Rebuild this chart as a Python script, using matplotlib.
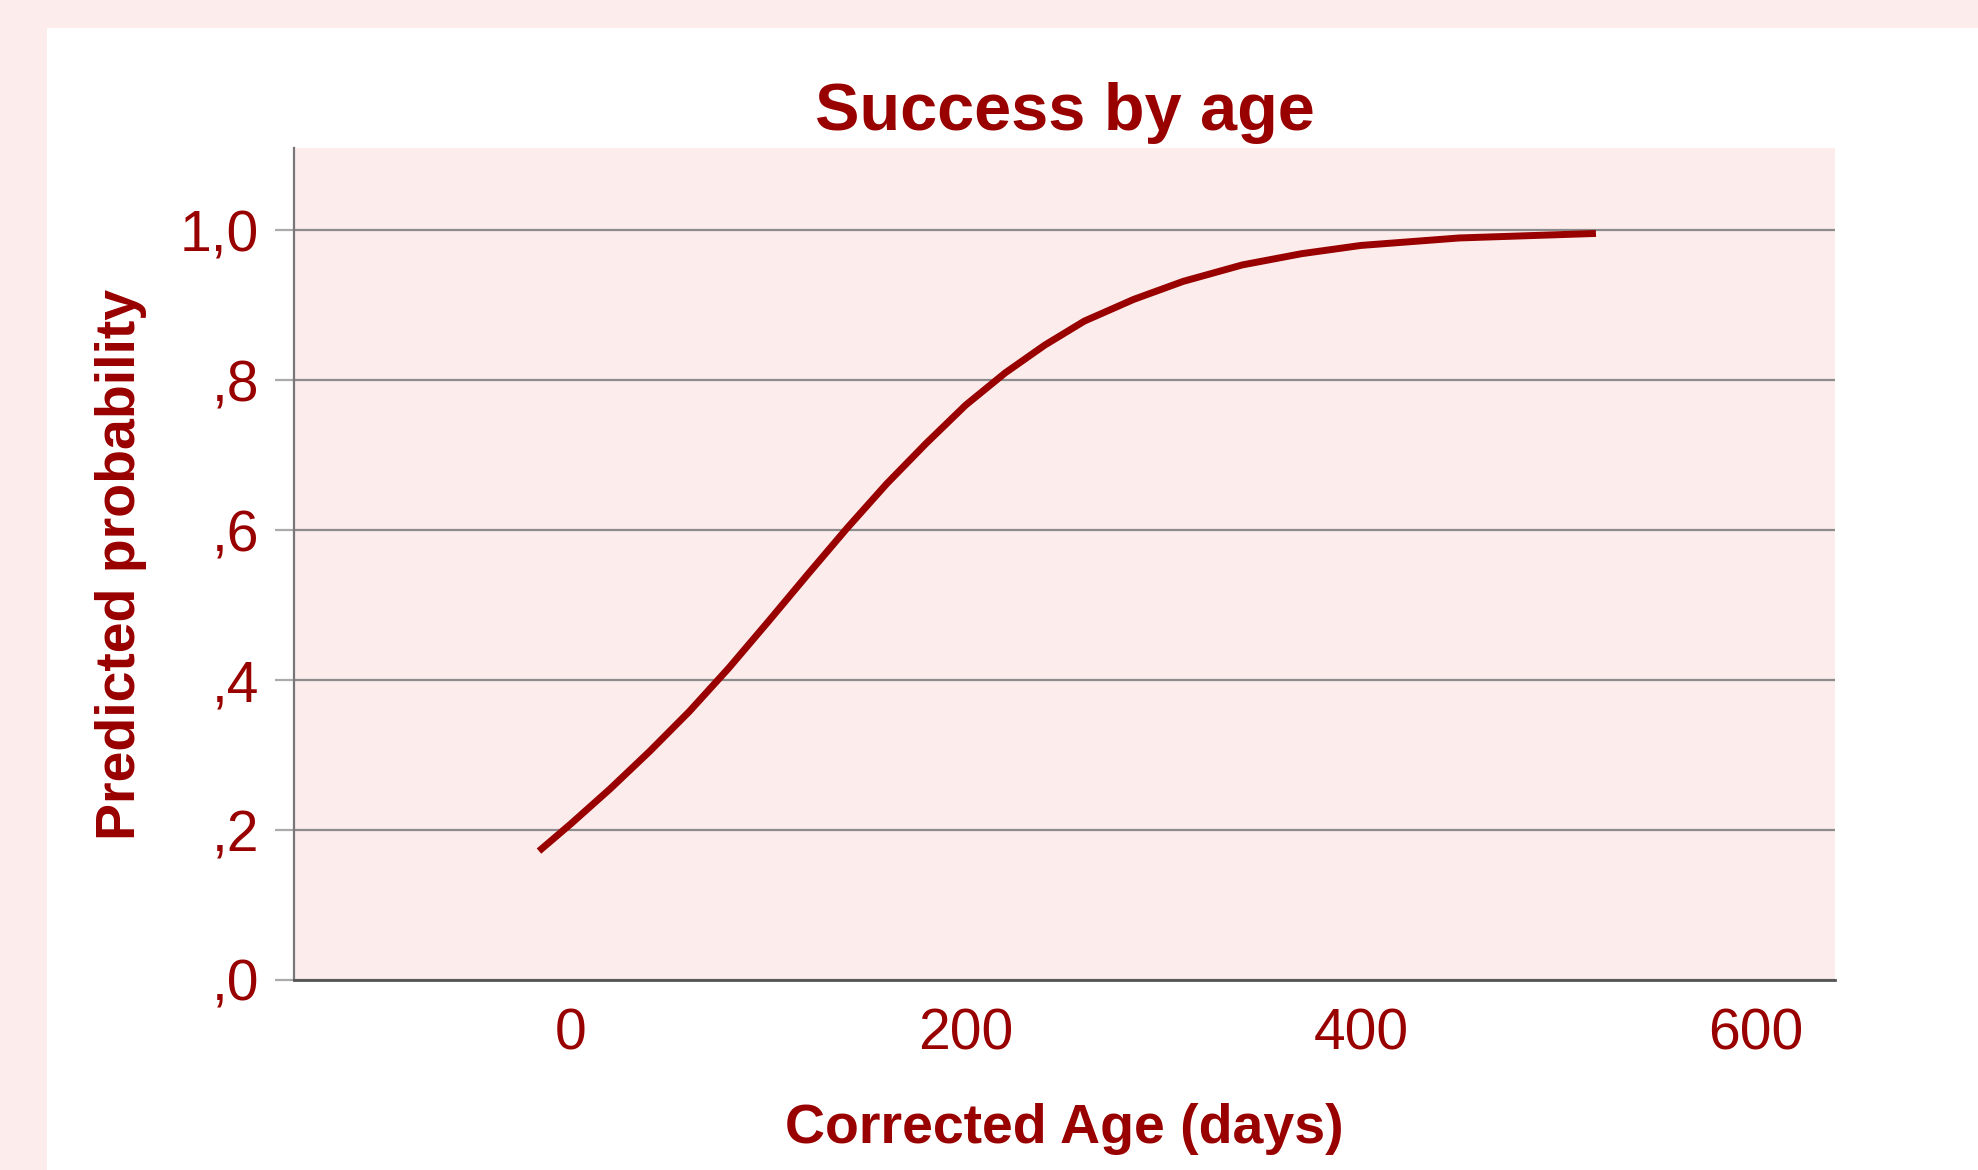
import numpy as np
import matplotlib
matplotlib.use("Agg")
import matplotlib.pyplot as plt
from matplotlib.patches import Rectangle

plt.rcParams['font.family'] = ['Liberation Sans', 'DejaVu Sans']

# datos
edad = [-16, 0, 20, 40, 60, 80, 100, 120, 140, 160, 180, 200, 220, 240, 260,
        285, 310, 340, 370, 400, 450, 519]
prob = [0.172, 0.208, 0.255, 0.305, 0.358, 0.416, 0.478, 0.541, 0.603, 0.662, 0.716,
        0.767, 0.810, 0.847, 0.879, 0.908, 0.932, 0.954, 0.969, 0.980, 0.990, 0.996]
yticks = [0.0, 0.2, 0.4, 0.6, 0.8, 1.0]
ytick_labels = [',0', ',2', ',4', ',6', ',8', '1,0']
xticks = [0, 200, 400, 600]

rojo = '#990000'
rosa = '#fcecec'

fig = plt.figure(figsize=(19.78, 11.7), dpi=100)
fig.patch.set_facecolor(rosa)
# panel blanco (detras de los ejes)
fig.patches.append(Rectangle((47/1978, 0), 1, 1 - 28/1170, transform=fig.transFigure,
                             facecolor='white', edgecolor='none', zorder=-10))

ax = fig.add_axes([294/1978, 1 - 980/1170, (1835-294)/1978, (980-148)/1170])
ax.set_facecolor(rosa)

ax.plot(edad, prob, color=rojo, lw=5, solid_capstyle='butt', solid_joinstyle='round', zorder=3)

ax.set_xlim(-140, 640)
ax.set_ylim(0, 1.11)
ax.set_xticks(xticks)
ax.set_xticklabels([str(t) for t in xticks])
ax.set_yticks(yticks)
ax.set_yticklabels(ytick_labels)

ax.grid(axis='y', color='#8c8c8c', lw=1.6, zorder=1)
ax.set_axisbelow(True)
for s in ['top', 'right']:
    ax.spines[s].set_visible(False)
ax.spines['left'].set_color('#777777')
ax.spines['left'].set_linewidth(1.6)
ax.spines['bottom'].set_color('#555555')
ax.spines['bottom'].set_linewidth(2)

ax.tick_params(axis='x', length=0, pad=20, labelsize=41, labelcolor=rojo)
ax.tick_params(axis='y', length=14, width=1.6, color='#aaaaaa', pad=11, labelsize=41, labelcolor=rojo)

ax.set_title('Success by age', fontsize=48, fontweight='bold', color=rojo, pad=13)
ax.set_xlabel('Corrected Age (days)', fontsize=40, fontweight='bold', color=rojo, labelpad=30)
ax.set_ylabel('Predicted probability', fontsize=40, fontweight='bold', color=rojo, labelpad=24)

fig.savefig('out.png', dpi=100, facecolor=fig.get_facecolor())
